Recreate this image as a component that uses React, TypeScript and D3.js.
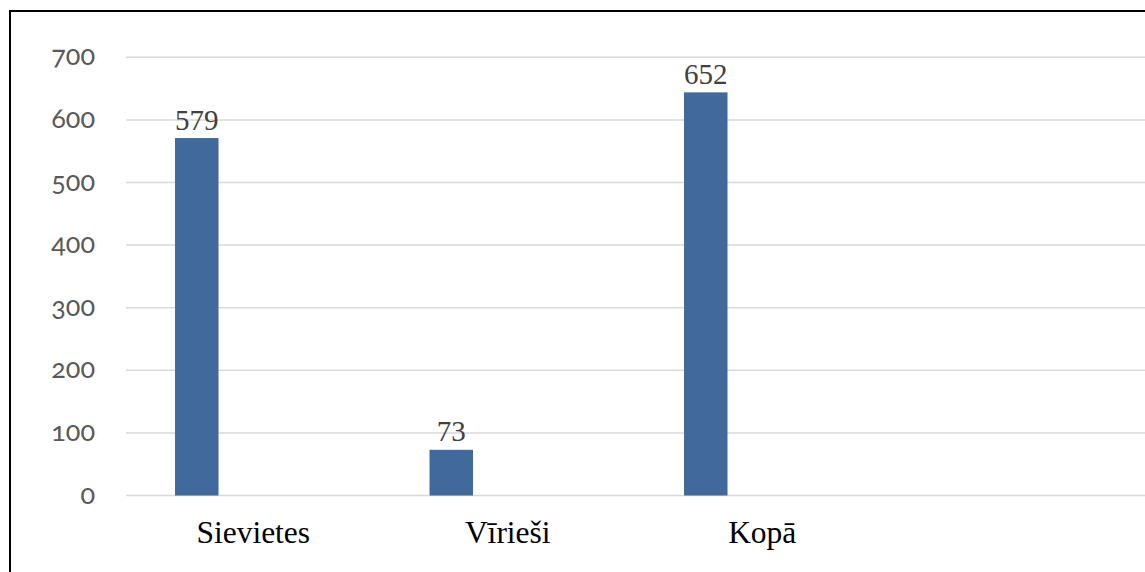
import React from "react";
import * as d3 from "d3";

const categories = ["Sievietes", "Vīrieši", "Kopā"];
const barValues = [571, 73, 644];
const dataLabels = ["579", "73", "652"];
const yTicks = [0, 100, 200, 300, 400, 500, 600, 700];

const W = 1145;
const H = 572;
const plotLeft = 126;
const plotRight = 1144;
const yZero = 495.5;
const yTop = 57.3;

export default function App() {
  const slots = [...categories, ""];
  const x = d3.scaleBand<string>().domain(slots).range([plotLeft, plotRight]);
  const inner = d3
    .scaleBand<string>()
    .domain(["value", "empty"])
    .range([0, x.bandwidth()])
    .paddingInner(0.615)
    .paddingOuter(0.434);
  const y = d3.scaleLinear().domain([0, 700]).range([yZero, yTop]);

  return (
    <svg
      width={W}
      height={H}
      style={{ position: "absolute", left: 0, top: 0, background: "#fff" }}
    >
      <path d={`M10,${H + 5} L10,11 L${W + 5},11`} fill="none" stroke="#000" strokeWidth={2} />
      {yTicks.map((t) => (
        <g key={t}>
          <line x1={plotLeft} x2={W} y1={y(t)} y2={y(t)} stroke="#d9d9d9" strokeWidth={1.5} />
          <text
            x={95}
            y={y(t)}
            dy="0.3em"
            textAnchor="end"
            fontFamily="Lato, 'Open Sans', sans-serif"
            fontSize={27}
            fill="#595959"
            style={{ fontVariantNumeric: "oldstyle-nums", fontFeatureSettings: '"onum"' }}
          >
            {t}
          </text>
        </g>
      ))}
      {categories.map((c, i) => {
        const bx = (x(c) as number) + (inner("value") as number);
        const by = y(barValues[i]);
        return (
          <g key={c}>
            <rect x={bx} y={by} width={inner.bandwidth()} height={yZero - by} fill="#41699b" />
            <text
              x={bx + inner.bandwidth() / 2}
              y={by - 8.5}
              textAnchor="middle"
              fontFamily="'Liberation Serif', 'Times New Roman', serif"
              fontSize={29}
              fill="#404040"
            >
              {dataLabels[i]}
            </text>
            <text
              x={(x(c) as number) + x.bandwidth() / 2}
              y={543}
              textAnchor="middle"
              fontFamily="'Liberation Serif', 'Times New Roman', serif"
              fontSize={31.5}
              fill="#000"
            >
              {c}
            </text>
          </g>
        );
      })}
    </svg>
  );
}
